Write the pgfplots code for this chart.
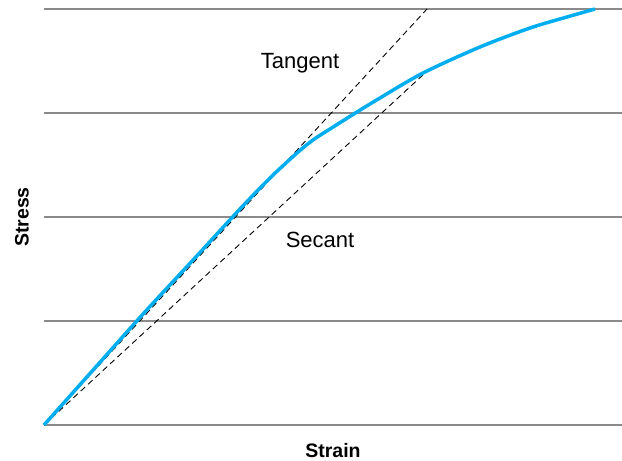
\documentclass[border=0pt]{standalone}
\usepackage{pgfplots}
\pgfplotsset{compat=1.18}
\usepackage{fontspec}
\setmainfont{Liberation Sans}
\definecolor{curveblue}{HTML}{00AEEF}
\definecolor{gridgray}{HTML}{8A8A8A}
\begin{document}
\begin{tikzpicture}
\useasboundingbox (-44pt,-36pt) rectangle (578pt,425pt);
\begin{axis}[
  scale only axis, width=578pt, height=416pt,
  xmin=0, xmax=578, ymin=0, ymax=416,
  axis line style={draw=none},
  tick style={draw=none},
  ytick={0,104,208,312,416}, xtick=\empty,
  yticklabels={},
  ymajorgrids, major grid style={gridgray, line width=1.3pt},
  clip=false,
  xlabel={\fontsize{19.5}{21}\selectfont\bfseries Strain},
  ylabel={\fontsize{19.5}{21}\selectfont\bfseries Stress},
  xlabel style={at={(axis description cs:0.5,0)}, anchor=center, yshift=-26pt},
  ylabel style={at={(axis description cs:0,0.5)}, anchor=center, yshift=22pt},
]
\addplot[black, line width=0.9pt, dash pattern=on 6pt off 4pt] coordinates {(0,0) (383,416)};
\addplot[black, line width=0.9pt, dash pattern=on 6pt off 4pt] coordinates {(0,0) (381,352)};
\addplot[curveblue, line width=3.5pt, smooth, tension=0.5] coordinates {
(0,0) (50,56) (100,112) (150,166) (196,216) (226,247) (253,272) (269,285) (286,296) (313,313) (336,327) (379,352) (436,378) (486,397) (523,408) (551,416)};
\node[font=\fontsize{22}{24}\selectfont] at (axis cs:256,362) {Tangent};
\node[font=\fontsize{22}{24}\selectfont] at (axis cs:276,185) {Secant};
\end{axis}
\end{tikzpicture}
\end{document}
